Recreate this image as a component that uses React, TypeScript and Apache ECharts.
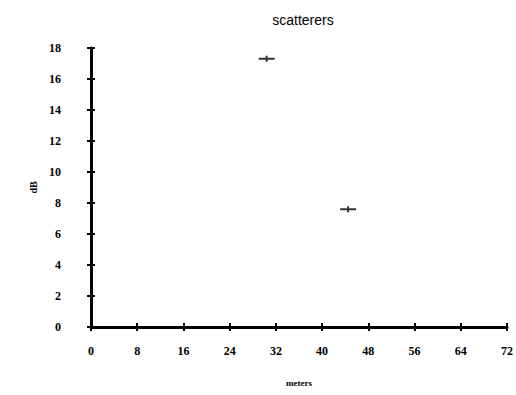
import React, { useEffect, useRef } from "react";
import * as echarts from "echarts";

const title = "scatterers";
const xName = "meters";
const yName = "dB";
const xTicks = [0, 8, 16, 24, 32, 40, 48, 56, 64, 72];
const yTicks = [0, 2, 4, 6, 8, 10, 12, 14, 16, 18];
const points: [number, number][] = [
  [30.4, 17.3],
  [44.5, 7.6],
];

const serif = "'Liberation Serif', 'DejaVu Serif', serif";

export default function App() {
  const ref = useRef<HTMLDivElement>(null);
  useEffect(() => {
    if (!ref.current) return;
    const chart = echarts.init(ref.current, undefined, { renderer: "svg" });
    const xMin = xTicks[0];
    const xMax = xTicks[xTicks.length - 1];
    const yMin = yTicks[0];
    const yMax = yTicks[yTicks.length - 1];
    const baseX = {
      type: "value" as const,
      min: xMin,
      max: xMax,
      interval: 8,
      splitLine: { show: false },
    };
    const baseY = {
      type: "value" as const,
      min: yMin,
      max: yMax,
      interval: 2,
      splitLine: { show: false },
    };
    chart.setOption({
      animation: false,
      backgroundColor: "#ffffff",
      title: {
        text: title,
        left: 298,
        top: 8,
        textAlign: "center",
        textStyle: {
          fontFamily: "'Liberation Sans', Arial, sans-serif",
          fontSize: 14,
          fontWeight: "normal",
          color: "#000",
        },
      },
      grid: { left: 91, right: 4, top: 48, bottom: 68 },
      xAxis: [
        {
          ...baseX,
          name: xName,
          nameLocation: "middle",
          nameGap: 51,
          nameTextStyle: { fontFamily: serif, fontSize: 9, fontWeight: "bold", color: "#000" },
          axisLine: { show: true, onZero: false, lineStyle: { color: "#000", width: 3 } },
          axisTick: { show: true, inside: false, length: 4, lineStyle: { color: "#000", width: 2 } },
          axisLabel: { margin: 18, fontFamily: serif, fontSize: 12, fontWeight: "bold", color: "#000", showMaxLabel: true },
        },
        {
          ...baseX,
          position: "bottom",
          axisLine: { show: false },
          axisTick: { show: true, inside: true, length: 4, lineStyle: { color: "#000", width: 2 } },
          axisLabel: { show: false },
        },
      ],
      yAxis: [
        {
          ...baseY,
          name: yName,
          nameLocation: "middle",
          nameGap: 47,
          nameRotate: 90,
          nameTextStyle: { fontFamily: serif, fontSize: 10, fontWeight: "bold", color: "#000" },
          axisLine: { show: true, onZero: false, lineStyle: { color: "#000", width: 3 } },
          axisTick: { show: true, inside: false, length: 4, lineStyle: { color: "#000", width: 2 } },
          axisLabel: { margin: 30, fontFamily: serif, fontSize: 12, fontWeight: "bold", color: "#000" },
        },
        {
          ...baseY,
          position: "left",
          axisLine: { show: false },
          axisTick: { show: true, inside: true, length: 4, lineStyle: { color: "#000", width: 2 } },
          axisLabel: { show: false },
        },
      ],
      series: [
        {
          type: "scatter",
          data: points,
          symbol: "path://M0,2 L16,2 L16,4 L0,4 Z M7,0 L9,0 L9,6 L7,6 Z",
          symbolSize: [16, 6],
          itemStyle: { color: "#000" },
        },
      ],
    });
    return () => chart.dispose();
  }, []);
  return (
    <div
      ref={ref}
      style={{ position: "absolute", left: 0, top: 0, width: 516, height: 395 }}
    />
  );
}
